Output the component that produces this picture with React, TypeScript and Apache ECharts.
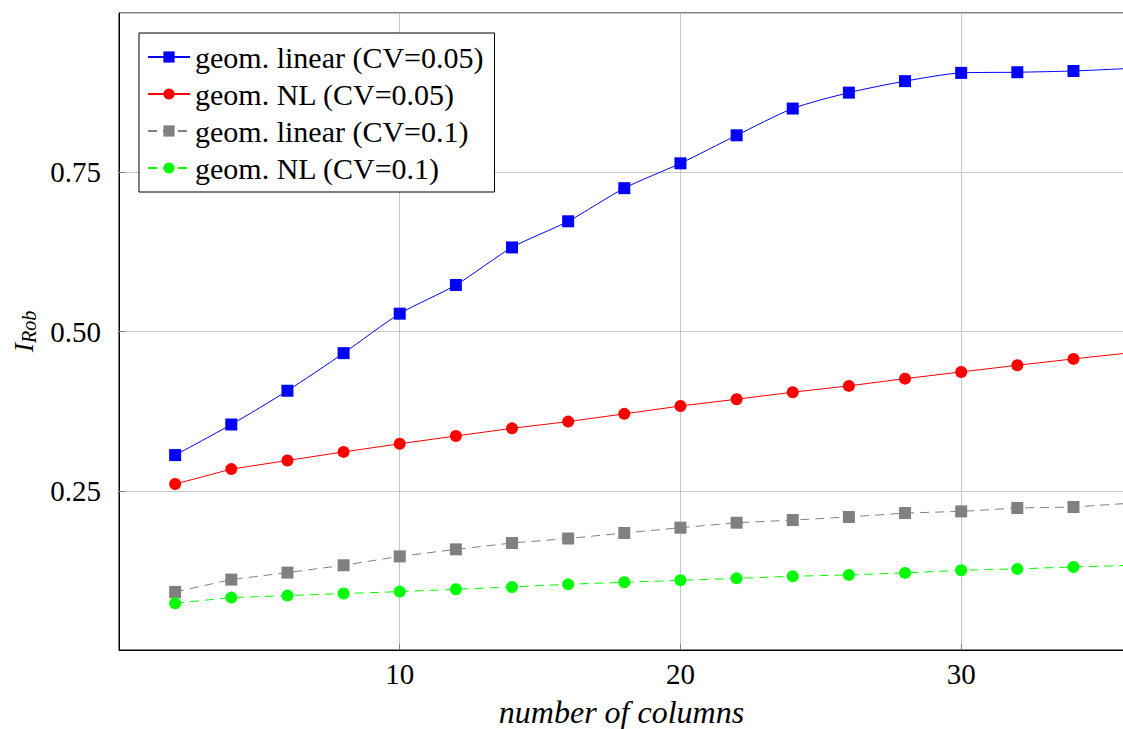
import React, { useEffect, useRef } from "react";
import * as echarts from "echarts";

const xValues = [2, 4, 6, 8, 10, 12, 14, 16, 18, 20, 22, 24, 26, 28, 30, 32, 34, 36];
const linear005 = [0.306, 0.354, 0.407, 0.466, 0.528, 0.573, 0.632, 0.673, 0.725, 0.764, 0.808, 0.850, 0.875, 0.893, 0.906, 0.907, 0.909, 0.913];
const nl005 = [0.2605, 0.284, 0.2975, 0.311, 0.3237, 0.336, 0.348, 0.3586, 0.3707, 0.383, 0.3937, 0.4047, 0.4146, 0.426, 0.4365, 0.447, 0.457, 0.4665];
const linear01 = [0.0912, 0.1105, 0.1215, 0.133, 0.147, 0.158, 0.168, 0.175, 0.1837, 0.192, 0.1998, 0.204, 0.2088, 0.215, 0.2176, 0.2229, 0.2245, 0.2304];
const nl01 = [0.0734, 0.0823, 0.0854, 0.0886, 0.0917, 0.0953, 0.099, 0.1031, 0.1063, 0.1094, 0.1125, 0.1157, 0.1179, 0.121, 0.1251, 0.1273, 0.1304, 0.1328];
const seriesNames = ["geom. linear (CV=0.05)", "geom. NL (CV=0.05)", "geom. linear (CV=0.1)", "geom. NL (CV=0.1)"];

const FONT = "Liberation Serif";

function pairs(ys: number[]) {
  return xValues.map((x, i) => [x, ys[i]]);
}

export default function App() {
  const ref = useRef<HTMLDivElement>(null);
  useEffect(() => {
    document.documentElement.style.margin = "0";
    document.documentElement.style.overflow = "hidden";
    document.body.style.margin = "0";
    document.body.style.overflow = "hidden";
    if (!ref.current) return;
    const chart = echarts.init(ref.current, undefined, { renderer: "svg", width: 1123, height: 729 });
    const mk = (name: string, data: number[], color: string, symbol: string, dashed: boolean, smooth: number | boolean) => ({
      name,
      type: "line",
      data: pairs(data),
      symbol,
      symbolSize: 12,
      smooth,
      itemStyle: { color },
      lineStyle: { color, width: 1, type: dashed ? [9, 6] : "solid" },
      clip: true,
    });
    chart.setOption({
      animation: false,
      backgroundColor: "#ffffff",
      textStyle: { fontFamily: FONT },
      grid: {
        left: 119,
        right: -1,
        top: 13,
        bottom: 79,
        show: true,
        borderColor: "#000",
        borderWidth: 1,
        containLabel: false,
        outerBoundsMode: "none",
      },
      legend: {
        orient: "vertical",
        left: 139,
        top: 33,
        padding: [9, 11, 9, 8],
        itemWidth: 42,
        itemHeight: 14,
        itemGap: 7,
        backgroundColor: "#ffffff",
        borderColor: "#000",
        borderWidth: 1,
        borderRadius: 0,
        textStyle: { fontFamily: FONT, fontSize: 30, color: "#000", lineHeight: 30 },
        data: seriesNames,
      },
      xAxis: {
        type: "value",
        min: 0,
        max: 35.8,
        interval: 10,
        name: "number of columns",
        nameLocation: "middle",
        nameGap: 46,
        nameTextStyle: { fontFamily: FONT, fontSize: 32, fontStyle: "italic", color: "#000", lineHeight: 32 },
        axisLine: { show: true, onZero: false, lineStyle: { color: "#000", width: 1 } },
        axisTick: { show: true, inside: true, length: 6, lineStyle: { color: "#808080" } },
        axisLabel: { showMinLabel: false, showMaxLabel: false, fontFamily: FONT, fontSize: 29, color: "#000", margin: 9 },
        splitLine: { show: true, lineStyle: { color: "#c8c8c8", width: 1 } },
      },
      yAxis: {
        type: "value",
        min: 0,
        max: 1,
        interval: 0.25,
        name: "{a|I}{b|Rob}",
        nameLocation: "middle",
        nameGap: 79,
        nameRotate: 90,
        nameTextStyle: {
          rich: {
            a: { fontFamily: FONT, fontSize: 28, fontStyle: "italic", color: "#000", lineHeight: 30 },
            b: { fontFamily: FONT, fontSize: 20, fontStyle: "italic", color: "#000", lineHeight: 30, padding: [12, 0, 0, 0] },
          },
        },
        axisLine: { show: true, lineStyle: { color: "#000", width: 1 } },
        axisTick: { show: true, inside: true, length: 6, lineStyle: { color: "#808080" } },
        axisLabel: {
          showMinLabel: false,
          showMaxLabel: false,
          fontFamily: FONT,
          fontSize: 29,
          color: "#000",
          margin: 18,
          formatter: (v: number) => v.toFixed(2),
        },
        splitLine: { show: true, lineStyle: { color: "#c8c8c8", width: 1 } },
      },
      series: [
        mk(seriesNames[0], linear005, "#0000ff", "rect", false, 0.25),
        mk(seriesNames[1], nl005, "#ff0000", "circle", false, false),
        mk(seriesNames[2], linear01, "#808080", "rect", true, false),
        mk(seriesNames[3], nl01, "#00ff00", "circle", true, false),
      ],
    });
    return () => chart.dispose();
  }, []);
  return <div ref={ref} style={{ width: 1123, height: 729 }} />;
}
